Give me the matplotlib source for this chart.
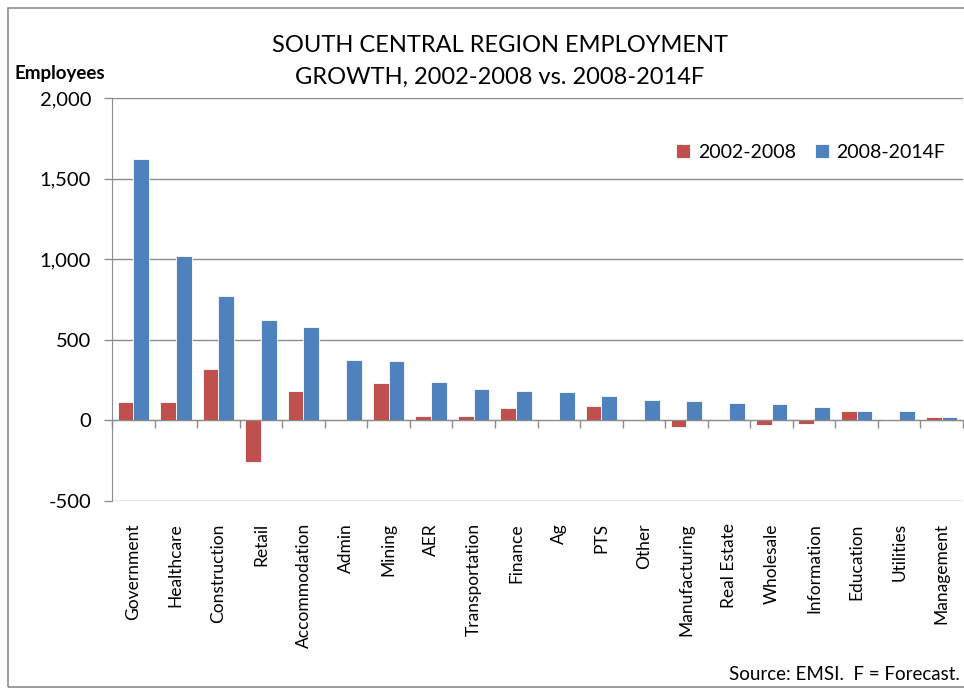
import matplotlib.pyplot as plt
import matplotlib.transforms as mtransforms
from matplotlib.patches import Rectangle
import numpy as np

plt.rcParams['font.family'] = ['Lato', 'DejaVu Sans']

industries = ["Government", "Healthcare", "Construction", "Retail", "Accommodation",
              "Admin", "Mining", "AER", "Transportation", "Finance", "Ag", "PTS",
              "Other", "Manufacturing", "Real Estate", "Wholesale", "Information",
              "Education", "Utilities", "Management"]
growth_02_08 = [115, 115, 320, -256, 185, 0, 232, 25, 25, 78, 10, 87,
                10, -39, 0, -29, -21, 60, 10, 19]
growth_08_14 = [1622, 1018, 772, 622, 580, 377, 370, 240, 192, 180, 174, 150,
                124, 122, 106, 99, 83, 60, 60, 19]

red = "#C0504D"
blue = "#4F81BD"

fig = plt.figure(figsize=(9.64, 6.89), dpi=100)
ax = fig.add_axes([112 / 964, 1 - 501 / 689, 851 / 964, 403 / 689])

x = np.arange(len(industries))
w = 0.37
ax.bar(x - w / 2, growth_02_08, w, color=red, edgecolor="white", linewidth=0.6,
       label="2002-2008", zorder=3)
ax.bar(x + w / 2, growth_08_14, w, color=blue, edgecolor="white", linewidth=0.6,
       label="2008-2014F", zorder=3)

ax.set_xlim(-0.5, len(industries) - 0.5)
ax.set_ylim(-500, 2000)
ax.set_yticks(range(-500, 2001, 500))
ax.set_yticklabels(["{:,}".format(v) for v in range(-500, 2001, 500)], fontsize=14.5)
ax.yaxis.grid(True, color="#8c8c8c", linewidth=1.0, zorder=0)
ax.tick_params(axis="y", length=6, width=1, color="#8c8c8c", pad=9)

for s in ["top", "right"]:
    ax.spines[s].set_visible(False)
ax.spines["left"].set_color("#8c8c8c")
ax.spines["bottom"].set_position(("data", 0))
ax.spines["bottom"].set_color("#8c8c8c")
ax.spines["bottom"].set_zorder(4)

ax.set_xticks(np.arange(len(industries) + 1) - 0.5)
ax.tick_params(axis="x", length=6, width=1, color="#8c8c8c", labelbottom=False)

trans = mtransforms.blended_transform_factory(ax.transData, ax.transAxes)
for i, name in enumerate(industries):
    ax.text(i, -0.055, name, rotation=90, ha="center", va="top",
            fontsize=12.5, transform=trans)

ax.legend(loc="upper right", bbox_to_anchor=(1.0, 0.93), frameon=False,
          fontsize=14, ncol=2, handlelength=0.7, handleheight=0.7,
          columnspacing=1.0, handletextpad=0.4)

fig.text(500 / 964, 1 - 45 / 689, "SOUTH CENTRAL REGION EMPLOYMENT",
         ha="center", va="center", fontsize=17)
fig.text(500 / 964, 1 - 77 / 689, "GROWTH, 2002-2008 vs. 2008-2014F",
         ha="center", va="center", fontsize=17)
fig.text(15 / 964, 1 - 73 / 689, "Employees", ha="left", va="center",
         fontsize=13.5, fontweight="bold")
fig.text(960 / 964, 1 - 675 / 689, "Source: EMSI.  F = Forecast.",
         ha="right", va="center", fontsize=13.5)

fig.patches.append(Rectangle((8 / 964, 2 / 689), 1.0, 679 / 689,
                             transform=fig.transFigure, fill=False,
                             edgecolor="#8c8c8c", linewidth=1.2))

fig.savefig("out.png", dpi=100)
